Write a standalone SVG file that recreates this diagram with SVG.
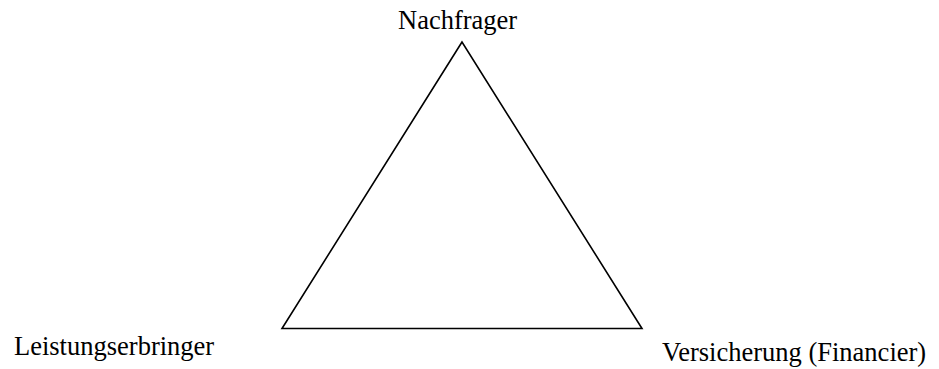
<svg xmlns="http://www.w3.org/2000/svg" width="939" height="369" viewBox="0 0 939 369">
<style>
.lbl{font-family:"Liberation Serif","Times New Roman",serif;font-size:26.5px;fill:#000}
.edge{fill:none;stroke:#000;stroke-width:1.6;stroke-linejoin:miter}
</style>
<rect width="939" height="369" fill="#fff"/>
<g id="connectors">
<polygon class="edge" points="462,42 282,328.5 642,328.5"/>
</g>
<g id="nachfrager"><text class="lbl" x="398" y="29">Nachfrager</text></g>
<g id="leistungserbringer"><text class="lbl" x="14" y="355">Leistungserbringer</text></g>
<g id="versicherung"><text class="lbl" x="662" y="361">Versicherung (Financier)</text></g>
</svg>
